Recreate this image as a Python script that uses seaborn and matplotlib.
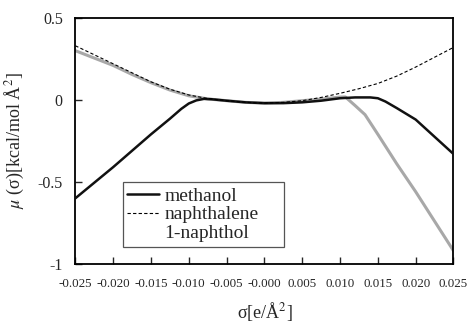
import matplotlib
matplotlib.use('Agg')
import matplotlib.pyplot as plt
import seaborn as sns
from matplotlib.ticker import FormatStrFormatter, MultipleLocator

# sigma grid (e/A^2) and mu(sigma) values
sigma_methanol = [-0.025, -0.0225, -0.020, -0.0175, -0.015, -0.0125, -0.011, -0.010, -0.009,
                  -0.008, -0.007, -0.005, -0.0025, 0.0, 0.0025, 0.005, 0.0075, 0.010,
                  0.012, 0.014, 0.015, 0.016, 0.0175, 0.020, 0.0225, 0.025]
mu_methanol = [-0.60, -0.505, -0.41, -0.31, -0.21, -0.115, -0.055, -0.022, -0.003,
               0.006, 0.004, -0.005, -0.015, -0.02, -0.02, -0.015, -0.005, 0.01,
               0.015, 0.015, 0.01, -0.01, -0.05, -0.12, -0.225, -0.33]

sigma_naphthalene = [-0.025, -0.0225, -0.020, -0.0175, -0.015, -0.0125, -0.010, -0.0075,
                     -0.005, -0.0025, 0.0, 0.0025, 0.005, 0.0075, 0.010, 0.0125, 0.015,
                     0.0175, 0.020, 0.0225, 0.025]
mu_naphthalene = [0.33, 0.275, 0.22, 0.165, 0.11, 0.065, 0.03, 0.008,
                  -0.005, -0.015, -0.02, -0.015, -0.005, 0.015, 0.04, 0.068, 0.10,
                  0.145, 0.20, 0.26, 0.32]

sigma_naphthol = [-0.025, -0.0225, -0.020, -0.0175, -0.015, -0.0125, -0.010, -0.0075,
                  -0.005, -0.0025, 0.0, 0.0025, 0.005, 0.0075, 0.010, 0.0107, 0.012,
                  0.0133, 0.015, 0.0175, 0.020, 0.0225, 0.025]
mu_naphthol = [0.30, 0.255, 0.21, 0.155, 0.105, 0.06, 0.025, 0.006,
               -0.005, -0.015, -0.02, -0.015, -0.005, 0.005, 0.017, 0.018, -0.035,
               -0.09, -0.21, -0.39, -0.56, -0.74, -0.92]

sns.set_style('ticks')
plt.rcParams['font.family'] = ['Liberation Serif', 'DejaVu Serif']
plt.rcParams['mathtext.fontset'] = 'stix'
plt.rcParams['axes.unicode_minus'] = False

fig, ax = plt.subplots(figsize=(4.68, 3.25), dpi=100)
fig.subplots_adjust(left=0.161, right=0.969, top=0.945, bottom=0.188)

sns.lineplot(x=sigma_naphthol, y=mu_naphthol, color='#a8a8a8', lw=2.2, ax=ax,
             label='1-naphthol', zorder=2)
sns.lineplot(x=sigma_methanol, y=mu_methanol, color='#111111', lw=1.8, ax=ax,
             label='methanol', zorder=3)
sns.lineplot(x=sigma_naphthalene, y=mu_naphthalene, color='black', lw=0.8, ax=ax,
             linestyle=(0, (3, 2)), label='naphthalene', zorder=4)

ax.set_xlim(-0.025, 0.025)
ax.set_ylim(-1, 0.5)
ax.xaxis.set_major_locator(MultipleLocator(0.005))
ax.xaxis.set_major_formatter(FormatStrFormatter('%.3f'))
ax.set_yticks([-1, -0.5, 0, 0.5])
ax.set_yticklabels(['-1', '-0.5', '0', '0.5'])
ax.tick_params(axis='x', direction='in', length=5, width=1, labelsize=9.4, pad=10)
ax.tick_params(axis='y', direction='in', length=5, width=1, labelsize=11.5, pad=9)
for s in ax.spines.values():
    s.set_visible(True)
    s.set_linewidth(1.3)
    s.set_color('black')

ax.set_xlabel('σ[e/Å$^{2}$]', fontsize=13, labelpad=7)
ax.set_ylabel('$\\mu$ (σ)[kcal/mol Å$^{2}$]', fontsize=13, labelpad=8)

h, l = ax.get_legend_handles_labels()
order = [1, 2, 0]
leg = ax.legend([h[i] for i in order], [l[i] for i in order], loc='lower left',
                bbox_to_anchor=(0.125, 0.069, 0.426, 0.27), mode='expand',
                borderaxespad=0, fontsize=14,
                frameon=True, fancybox=False, edgecolor='#555555', framealpha=1,
                handlelength=1.6, handletextpad=0.3, labelspacing=0.05,
                borderpad=0.25)
leg.get_frame().set_linewidth(0.9)
leg.get_lines()[2].set_visible(False)

fig.savefig('out.png', dpi=100)
